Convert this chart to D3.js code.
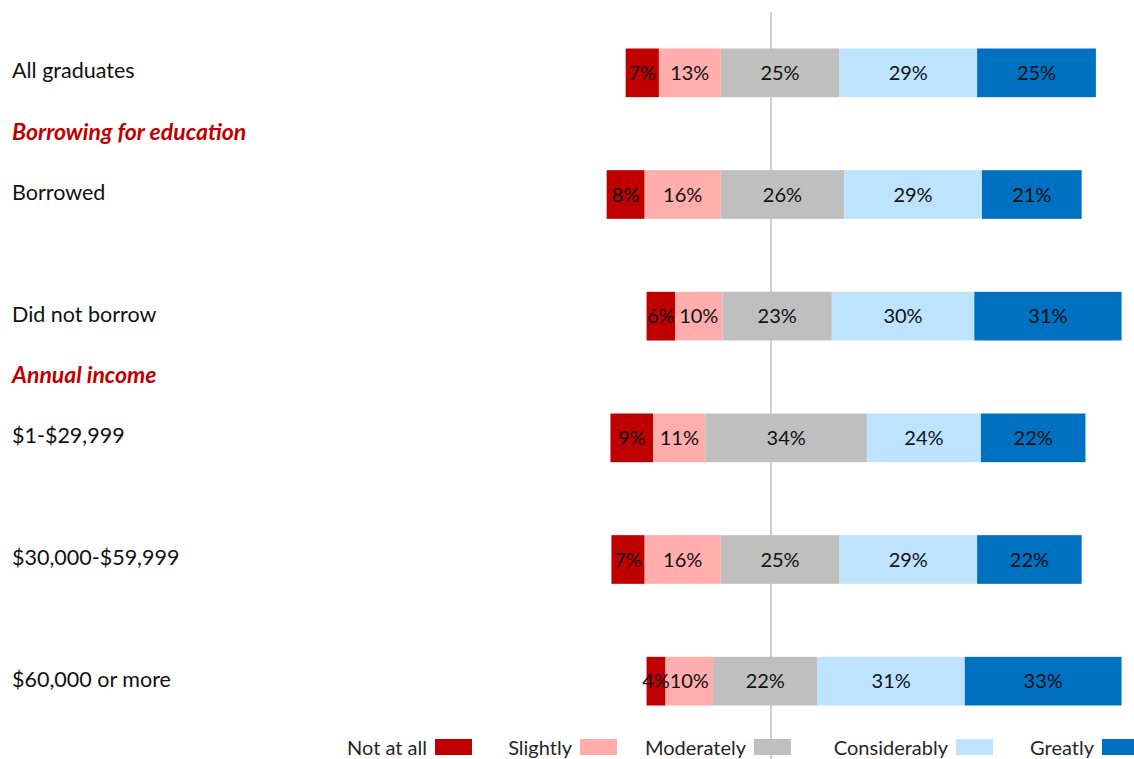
<!DOCTYPE html>
<html>
<head>
<meta charset="utf-8">
<script src="https://cdn.jsdelivr.net/npm/d3@7"></script>
<style>
  html, body { margin: 0; padding: 0; background: #ffffff; }
  svg { display: block; }
  text { font-family: Lato, "Open Sans", "Noto Sans", sans-serif; }
</style>
</head>
<body>
<svg id="chart" width="1134" height="759"></svg>
<script>
// Survey groups (rows, top to bottom)
const categories = ["All graduates", "Borrowed", "Did not borrow", "$1-$29,999", "$30,000-$59,999", "$60,000 or more"];

// Response levels, in stacking order
const levels = ["Not at all", "Slightly", "Moderately", "Considerably", "Greatly"];

// Share of respondents (%) per level, one value per group
const notAtAll     = [7, 8, 6, 9, 7, 4];
const slightly     = [13, 16, 10, 11, 16, 10];
const moderately   = [25, 26, 23, 34, 25, 22];
const considerably = [29, 29, 30, 24, 29, 31];
const greatly      = [25, 21, 31, 22, 22, 33];

// Where each bar begins, in % relative to the reference line
const barStart = [-30.6, -34.6, -26.2, -33.8, -33.6, -26.2];

// Section headings and the group each one precedes
const sectionTitles = ["Borrowing for education", "Annual income"];
const sectionBefore = ["Borrowed", "$1-$29,999"];

const levelColors = ["#C00000", "#FFADAD", "#BFBFBF", "#BDE3FF", "#0070C0"];

const series = [notAtAll, slightly, moderately, considerably, greatly];

const svg = d3.select("#chart");
const W = 1134, H = 759;

const x = d3.scaleLinear().domain([-40, 80]).range([581, 1151]);
const y = d3.scaleBand().domain(categories).range([12, 742])
  .paddingInner(0.6).paddingOuter(0.3);
const color = d3.scaleOrdinal().domain(levels).range(levelColors);

// Build stacked segments per row
const rows = categories.map((cat, i) => {
  let acc = barStart[i];
  const segs = levels.map((lvl, j) => {
    const v = series[j][i];
    const s = { cat, level: lvl, value: v, x0: acc, x1: acc + v };
    acc += v;
    return s;
  });
  return { cat, segs };
});

// Reference line
svg.append("line")
  .attr("x1", x(0)).attr("x2", x(0))
  .attr("y1", 12).attr("y2", H)
  .attr("stroke", "#BFBFBF").attr("stroke-width", 1.5);

// Bars
const rowG = svg.selectAll("g.row").data(rows).join("g")
  .attr("class", "row")
  .attr("transform", d => `translate(0,${y(d.cat)})`);

rowG.selectAll("rect").data(d => d.segs).join("rect")
  .attr("x", d => x(d.x0))
  .attr("width", d => x(d.x1) - x(d.x0))
  .attr("y", 0)
  .attr("height", y.bandwidth())
  .attr("fill", d => color(d.level));

rowG.selectAll("text.val").data(d => d.segs).join("text")
  .attr("class", "val")
  .attr("x", d => (x(d.x0) + x(d.x1)) / 2)
  .attr("y", y.bandwidth() / 2 + 2)
  .attr("text-anchor", "middle")
  .attr("dominant-baseline", "middle")
  .attr("font-size", 20)
  .attr("fill", "#111111")
  .text(d => d.value + "%");

// Row labels
svg.selectAll("text.cat").data(categories).join("text")
  .attr("class", "cat")
  .attr("x", 12)
  .attr("y", d => y(d) + y.bandwidth() / 2)
  .attr("dominant-baseline", "middle")
  .attr("font-size", 21.5)
  .attr("fill", "#111111")
  .text(d => d);

// Section headings, halfway between neighbouring rows
svg.selectAll("text.section").data(sectionTitles).join("text")
  .attr("class", "section")
  .attr("x", 12)
  .attr("y", (d, i) => {
    const idx = categories.indexOf(sectionBefore[i]);
    const prev = categories[idx - 1], next = categories[idx];
    return (y(prev) + y(next)) / 2 + y.bandwidth() / 2;
  })
  .attr("dominant-baseline", "middle")
  .attr("font-size", 23)
  .attr("font-weight", "bold")
  .attr("font-style", "italic")
  .attr("fill", "#C00000")
  .text(d => d);

// Legend: label followed by a colour swatch
const legendSwatchX = [435, 580, 754, 956, 1102];
const legend = svg.selectAll("g.legend").data(levels).join("g")
  .attr("class", "legend");

legend.append("rect")
  .attr("x", (d, i) => legendSwatchX[i])
  .attr("y", 739)
  .attr("width", 37)
  .attr("height", 16)
  .attr("fill", d => color(d));

legend.append("text")
  .attr("x", (d, i) => legendSwatchX[i] - 8)
  .attr("y", 750)
  .attr("text-anchor", "end")
  .attr("dominant-baseline", "middle")
  .attr("font-size", 20)
  .attr("fill", "#262626")
  .text(d => d);
</script>
</body>
</html>
